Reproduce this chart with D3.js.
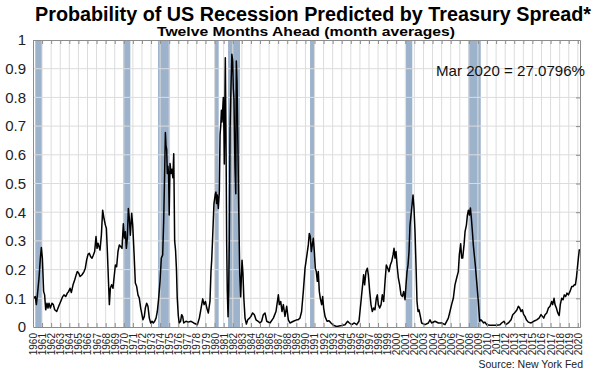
<!DOCTYPE html>
<meta charset="utf-8">
<head>
  <title>Recession probability</title>
</head>
<style>
  body { margin: 0; background: #fff; font-family: "Liberation Sans", Arial, sans-serif; }
  .grid line { stroke: #dcdcdc; stroke-width: 1px; }
  .frame path, .frame line { stroke: #8c8c8c; }
  .line { fill: none; stroke: #000; stroke-width: 1.5px; stroke-linejoin: round; }
  .recession { fill: #9db3cc; }
</style>
<body>
<svg width="600" height="375"></svg>
<script src="https://d3js.org/d3.v7.min.js"></script>
<script>
// recession bars (decimal years)
var recStart = [1960.25, 1969.91, 1973.77, 1979.97, 1981.48, 1990.51, 2001.08, 2007.94];
var recEnd   = [1960.99, 1970.72, 1975.09, 1980.45, 1982.80, 1991.06, 2001.77, 2009.31];

var yearLabels = d3.range(1960, 2021);
var probTicks = [0, 0.1, 0.2, 0.3, 0.4, 0.5, 0.6, 0.7, 0.8, 0.9, 1];
var lastLabel = "Mar 2020 = 27.0796%";

// probability, 12 months ahead
var dates = [1960.07,1960.25,1960.37,1960.48,1960.66,1960.81,1960.92,1961.03,1961.17,1961.28,1961.40,1961.54,1961.65,1961.76,1961.91,1962.09,1962.24,1962.39,1962.61,1962.83,1963.05,1963.27,1963.41,1963.60,1963.78,1963.93,1964.08,1964.22,1964.41,1964.59,1964.74,1964.88,1965.03,1965.18,1965.40,1965.62,1965.76,1965.91,1966.06,1966.20,1966.35,1966.50,1966.64,1966.79,1966.94,1967.05,1967.16,1967.27,1967.38,1967.53,1967.67,1967.82,1967.97,1968.08,1968.19,1968.30,1968.41,1968.52,1968.66,1968.81,1968.92,1969.07,1969.21,1969.36,1969.51,1969.66,1969.80,1969.95,1970.06,1970.17,1970.28,1970.39,1970.50,1970.61,1970.72,1970.87,1970.98,1971.12,1971.27,1971.42,1971.56,1971.71,1971.86,1972.00,1972.11,1972.26,1972.37,1972.52,1972.66,1972.81,1972.96,1973.11,1973.25,1973.40,1973.55,1973.69,1973.84,1973.99,1974.13,1974.28,1974.39,1974.50,1974.58,
  1974.65,1974.72,1974.79,1974.86,1974.93,1975.00,1975.09,1975.20,1975.30,1975.40,1975.50,1975.60,1975.70,1975.80,1975.88,1976.00,1976.10,1976.25,1976.37,1976.48,1976.60,1976.85,1977.10,1977.40,1977.70,1978.10,1978.32,1978.58,1978.69,1978.84,1978.99,1979.14,1979.31,1979.49,1979.60,1979.68,1979.78,1979.93,1980.08,1980.15,1980.22,1980.30,1980.41,1980.52,1980.60,1980.68,1980.75,1980.82,1980.96,1981.03,1981.07,1981.11,1981.18,1981.25,1981.33,1981.40,1981.48,1981.55,1981.62,1981.70,1981.80,1981.90,1981.99,1982.06,1982.13,1982.24,1982.33,1982.39,1982.47,1982.56,1982.65,1982.76,1982.87,1983.02,1983.12,1983.22,1983.35,1983.50,1983.65,1983.85,1984.00,1984.19,1984.38,1984.56,1984.80,1985.00,1985.18,1985.36,1985.55,1985.74,1986.10,1986.47,1986.76,1987.02,1987.13,1987.28,1987.42,1987.57,1987.75,1987.94,1988.12,1988.30,1988.67,1989.04,
  1989.20,1989.40,1989.58,1989.77,1989.96,1990.14,1990.32,1990.43,1990.54,1990.65,1990.76,1990.87,1990.98,1991.09,1991.20,1991.31,1991.42,1991.53,1991.64,1991.79,1991.90,1992.01,1992.16,1992.38,1992.60,1992.82,1993.08,1993.44,1993.99,1994.36,1994.65,1994.84,1995.10,1995.39,1995.65,1995.90,1996.12,1996.30,1996.41,1996.52,1996.67,1996.82,1996.93,1997.08,1997.22,1997.37,1997.52,1997.66,1997.81,1997.92,1998.03,1998.18,1998.33,1998.47,1998.62,1998.77,1998.91,1999.06,1999.21,1999.35,1999.50,1999.65,1999.76,1999.87,1999.98,2000.09,2000.24,2000.38,2000.53,2000.68,2000.82,2000.97,2001.08,2001.19,2001.30,2001.41,2001.52,2001.63,2001.74,2001.85,2001.96,2002.07,2002.18,2002.29,2002.40,2002.51,2002.62,2002.80,2003.17,2003.54,2003.72,2003.90,2004.27,2004.64,
  2005.00,2005.37,2005.74,2005.92,2006.10,2006.29,2006.47,2006.65,2006.84,2006.95,2007.10,2007.21,2007.32,2007.47,2007.58,2007.73,2007.84,2007.95,2008.06,2008.17,2008.28,2008.39,2008.49,2008.60,2008.71,2008.86,2009.04,2009.19,2009.33,2009.48,2009.63,2009.77,2009.96,2010.33,2010.70,2011.06,2011.43,2011.61,2011.87,2012.06,2012.35,2012.65,2012.83,2013.02,2013.16,2013.30,2013.45,2013.60,2013.74,2013.89,2014.04,2014.18,2014.33,2014.55,2014.85,2015.14,2015.47,2015.73,2015.95,2016.10,2016.25,2016.39,2016.58,2016.76,2016.94,2017.12,2017.23,2017.38,2017.49,2017.64,2017.78,2017.95,2018.07,2018.22,2018.37,2018.51,2018.66,2018.81,2018.96,2019.14,2019.33,2019.47,2019.62,2019.73,2019.84,2019.95,2020.06,2020.17];
var probs = [0.10,0.106,0.078,0.11,0.17,0.24,0.277,0.24,0.124,0.112,0.06,0.083,0.066,0.083,0.066,0.083,0.078,0.06,0.054,0.072,0.089,0.106,0.112,0.106,0.118,0.124,0.135,0.12,0.147,0.164,0.18,0.193,0.188,0.176,0.182,0.193,0.205,0.234,0.253,0.257,0.245,0.24,0.25,0.263,0.315,0.274,0.292,0.28,0.268,0.32,0.407,0.378,0.355,0.344,0.263,0.17,0.078,0.135,0.147,0.135,0.17,0.216,0.21,0.263,0.286,0.28,0.274,0.36,0.31,0.332,0.274,0.31,0.413,0.378,0.32,0.396,0.355,0.263,0.153,0.141,0.112,0.10,0.066,0.043,0.025,0.037,0.066,0.083,0.072,0.031,0.014,0.02,0.014,0.02,0.031,0.054,0.10,0.159,0.24,0.251,0.367,0.54,0.678,
  0.63,0.62,0.535,0.56,0.535,0.39,0.57,0.535,0.55,0.52,0.604,0.30,0.267,0.2,0.105,0.04,0.014,0.02,0.043,0.037,0.014,0.02,0.017,0.02,0.014,0.008,0.031,0.078,0.098,0.078,0.089,0.066,0.049,0.089,0.193,0.233,0.309,0.43,0.464,0.47,0.43,0.46,0.413,0.471,0.67,0.703,0.755,0.714,0.8,0.68,0.568,0.714,0.938,0.684,0.286,0.124,0.036,0.124,0.30,0.684,0.83,0.95,0.928,0.83,0.795,0.564,0.464,0.927,0.853,0.645,0.425,0.193,0.105,0.233,0.187,0.10,0.031,0.01,0.025,0.031,0.037,0.049,0.043,0.025,0.02,0.014,0.02,0.043,0.049,0.02,0.014,0.031,0.054,0.112,0.078,0.089,0.054,0.078,0.037,0.072,0.025,0.014,0.02,0.025,
  0.025,0.031,0.054,0.124,0.205,0.245,0.286,0.326,0.315,0.263,0.286,0.309,0.263,0.205,0.193,0.159,0.193,0.124,0.10,0.078,0.106,0.066,0.037,0.02,0.022,0.014,0.006,0.002,0.005,0.008,0.02,0.014,0.008,0.014,0.008,0.02,0.089,0.147,0.182,0.147,0.193,0.205,0.182,0.124,0.078,0.054,0.066,0.06,0.10,0.112,0.078,0.066,0.078,0.112,0.089,0.159,0.216,0.205,0.193,0.216,0.228,0.251,0.274,0.24,0.263,0.216,0.17,0.147,0.112,0.106,0.124,0.095,0.147,0.193,0.216,0.263,0.355,0.39,0.425,0.46,0.413,0.332,0.216,0.089,0.054,0.06,0.043,0.014,0.008,0.014,0.025,0.014,0.02,0.014,
  0.014,0.008,0.031,0.054,0.078,0.10,0.147,0.17,0.193,0.251,0.29,0.24,0.24,0.286,0.332,0.355,0.39,0.407,0.39,0.415,0.378,0.332,0.286,0.251,0.216,0.159,0.089,0.02,0.025,0.02,0.014,0.017,0.008,0.006,0.006,0.006,0.008,0.014,0.02,0.008,0.014,0.025,0.043,0.049,0.054,0.06,0.072,0.066,0.054,0.06,0.043,0.037,0.025,0.017,0.014,0.02,0.025,0.031,0.043,0.037,0.031,0.043,0.049,0.066,0.072,0.089,0.078,0.1,0.078,0.066,0.05,0.04,0.078,0.1,0.095,0.112,0.106,0.118,0.112,0.124,0.141,0.141,0.147,0.147,0.17,0.205,0.24,0.2708];

var svg = d3.select("svg");

var x = d3.scaleLinear().domain([1960, 2020.24]).range([33, 580]);
var y = d3.scaleLinear().domain([0, 1]).range([327, 40]);

// recession shading
svg.append("g").selectAll("rect")
  .data(recStart)
  .enter().append("rect")
  .attr("class", "recession")
  .attr("x", function(d) { return x(d); })
  .attr("y", y(1))
  .attr("width", function(d, i) { return x(recEnd[i]) - x(d); })
  .attr("height", y(0) - y(1));

// grid
var grid = svg.append("g").attr("class", "grid");
grid.selectAll(".v").data(yearLabels.slice(1))
  .enter().append("line")
  .attr("x1", function(d) { return x(d); }).attr("x2", function(d) { return x(d); })
  .attr("y1", y(0)).attr("y2", y(1));
grid.selectAll(".h").data(probTicks.slice(1, -1))
  .enter().append("line")
  .attr("x1", x.range()[0]).attr("x2", x.range()[1])
  .attr("y1", function(d) { return y(d); }).attr("y2", function(d) { return y(d); });

// the line
var line = d3.line()
  .x(function(d, i) { return x(dates[i]); })
  .y(function(d) { return y(d); });

svg.append("path")
  .datum(probs)
  .attr("class", "line")
  .attr("d", line);

// frame with inward ticks
var bottom = svg.append("g").attr("class", "frame")
  .attr("transform", "translate(0," + y(0) + ")")
  .call(d3.axisBottom(x).tickValues(yearLabels).tickSizeInner(-4).tickSizeOuter(0).tickPadding(6).tickFormat(d3.format("d")));
bottom.selectAll("text")
  .attr("transform", "rotate(-90)")
  .attr("x", -6).attr("y", 0).attr("dy", "0.35em")
  .style("text-anchor", "end")
  .style("font-size", "10px")
  .style("fill", "#222");

svg.append("g").attr("class", "frame")
  .attr("transform", "translate(0," + y(1) + ")")
  .call(d3.axisTop(x).tickValues(yearLabels).tickSizeInner(-4).tickSizeOuter(0).tickFormat(""));

var left = svg.append("g").attr("class", "frame")
  .attr("transform", "translate(" + x.range()[0] + ",0)")
  .call(d3.axisLeft(y).tickValues(probTicks).tickSizeInner(0).tickSizeOuter(0).tickPadding(7).tickFormat(function(d) { return String(d); }));
left.selectAll("text").style("font-size", "15px").style("fill", "#222").style("font-family", "Liberation Sans, Arial, sans-serif");

svg.append("g").attr("class", "frame")
  .attr("transform", "translate(" + x.range()[1] + ",0)")
  .call(d3.axisRight(y).tickValues(probTicks).tickSizeInner(-4).tickSizeOuter(0).tickFormat(""));

svg.selectAll(".frame .domain").attr("stroke", "#8c8c8c");

// titles
svg.append("text")
  .attr("x", 35).attr("y", 21)
  .attr("textLength", 556).attr("lengthAdjust", "spacingAndGlyphs")
  .style("font-weight", "bold").style("font-size", "20px")
  .text("Probability of US Recession Predicted by Treasury Spread*");

svg.append("text")
  .attr("x", 157).attr("y", 35.5)
  .attr("textLength", 298).attr("lengthAdjust", "spacingAndGlyphs")
  .style("font-weight", "bold").style("font-size", "13.5px")
  .text("Twelve Months Ahead (month averages)");

svg.append("text")
  .attr("x", 436).attr("y", 76)
  .attr("textLength", 149).attr("lengthAdjust", "spacingAndGlyphs")
  .style("font-size", "15px").style("fill", "#111")
  .text(lastLabel);

svg.append("text")
  .attr("x", 583).attr("y", 368)
  .style("text-anchor", "end")
  .style("font-size", "10.5px").style("fill", "#222")
  .text("Source: New York Fed");
</script>
</body>
</html>
